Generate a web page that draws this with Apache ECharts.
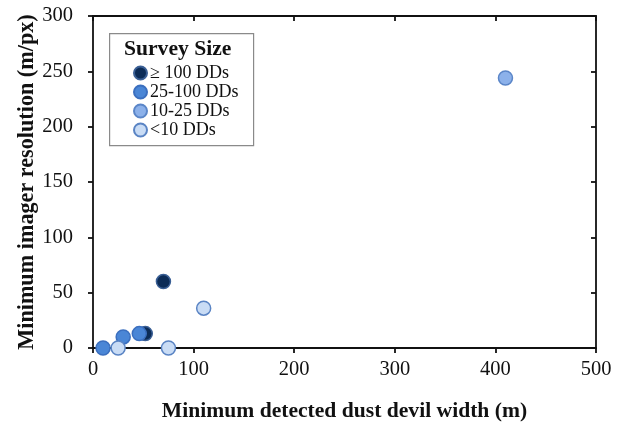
<!DOCTYPE html>
<html>
<head>
    <meta charset="UTF-8" />
    <title>Survey size scatter</title>
    <script src="https://cdn.jsdelivr.net/npm/echarts@6/dist/echarts.min.js"></script>
    <style>
        html, body { margin: 0; padding: 0; background: #fff; }
        #chart { width: 617px; height: 425px; }
    </style>
</head>
<body>
<div id="chart"></div>
<script type="text/javascript">
    // survey size groups (legend order)
    var groupNames = ['\u2265 100 DDs', '25-100 DDs', '10-25 DDs', '<10 DDs'];
    // [min detected width (m), min imager resolution (m/px)]
    var bigSurveys = [[70, 60], [52, 13]];
    var midSurveys = [[46, 13], [30, 10], [10, 0]];
    var smallSurveys = [[410, 244]];
    var tinySurveys = [[110, 36], [25, 0], [75, 0]];
    var xTicks = [0, 100, 200, 300, 400, 500];
    var yTicks = [0, 50, 100, 150, 200, 250, 300];

    var fills = ['#0c2c57', '#4a86d6', '#8cb1ea', '#c9dcf5'];
    var borders = ['#3a5f95', '#3b6fbf', '#5b86c8', '#5a84c4'];
    var groups = [bigSurveys, midSurveys, smallSurveys, tinySurveys];

    var serif = '"Liberation Serif", "DejaVu Serif", serif';
    var black = '#111';

    var chart = echarts.init(document.getElementById('chart'));

    //x轴，main=false 时是上边框（刻度朝内，无标签）
    function mkX(pos, main) {
        return {
            type: 'value', position: pos, min: xTicks[0], max: xTicks[xTicks.length - 1], interval: 100,
            splitLine: { show: false },
            axisLine: { show: true, onZero: false, lineStyle: { color: black, width: 1.8 } },
            axisTick: { show: true, inside: !main, length: 5, lineStyle: { color: black, width: 1.8 } },
            axisLabel: { show: main, color: black, fontFamily: serif, fontSize: 20.5, margin: 11 },
            name: main ? 'Minimum detected dust devil width (m)' : '',
            nameLocation: 'middle', nameGap: 52, nameMoveOverlap: false,
            nameTextStyle: { color: black, fontFamily: serif, fontSize: 21.6, fontWeight: 'bold' }
        };
    }
    //y轴，main=false 时是右边框
    function mkY(pos, main) {
        return {
            type: 'value', position: pos, min: yTicks[0], max: yTicks[yTicks.length - 1], interval: 50,
            splitLine: { show: false },
            axisLine: { show: true, onZero: false, lineStyle: { color: black, width: 1.8 } },
            axisTick: { show: true, inside: !main, length: 5, lineStyle: { color: black, width: 1.8 } },
            axisLabel: { show: main, color: black, fontFamily: serif, fontSize: 20.5, margin: 20 },
            name: main ? 'Minimum imager resolution (m/px)' : '',
            nameLocation: 'middle', nameGap: 55, nameMoveOverlap: false,
            nameTextStyle: { color: black, fontFamily: serif, fontSize: 22.2, fontWeight: 'bold' }
        };
    }

    var series = groups.map(function (g, i) {
        return {
            name: groupNames[i],
            type: 'scatter',
            symbolSize: 14,
            data: g,
            itemStyle: { color: fills[i], borderColor: borders[i], borderWidth: 1.5, opacity: 1 }
        };
    });

    var option = {
        animation: false,
        grid: { left: 93, right: 21, top: 16, bottom: 77, containLabel: false, outerBoundsMode: 'none' },
        xAxis: [mkX('bottom', true), mkX('top', false)],
        yAxis: [mkY('left', true), mkY('right', false)],
        legend: {
            orient: 'vertical', left: 128, top: 58.5,
            itemWidth: 13, itemHeight: 13, itemGap: 0,
            icon: 'circle',
            data: groupNames,
            textStyle: { color: black, fontFamily: serif, fontSize: 18, lineHeight: 19, padding: [0, 0, 0, -2] }
        },
        graphic: [
            { type: 'rect', left: 109, top: 33, shape: { width: 144, height: 112 },
              style: { fill: '#fff', stroke: '#8a8a8a', lineWidth: 1.2 }, z: -1 },
            { type: 'text', left: 124, top: 38,
              style: { text: 'Survey Size', font: 'bold 21.6px ' + serif, fill: black } }
        ],
        series: series
    };
    chart.setOption(option);
</script>
</body>
</html>
